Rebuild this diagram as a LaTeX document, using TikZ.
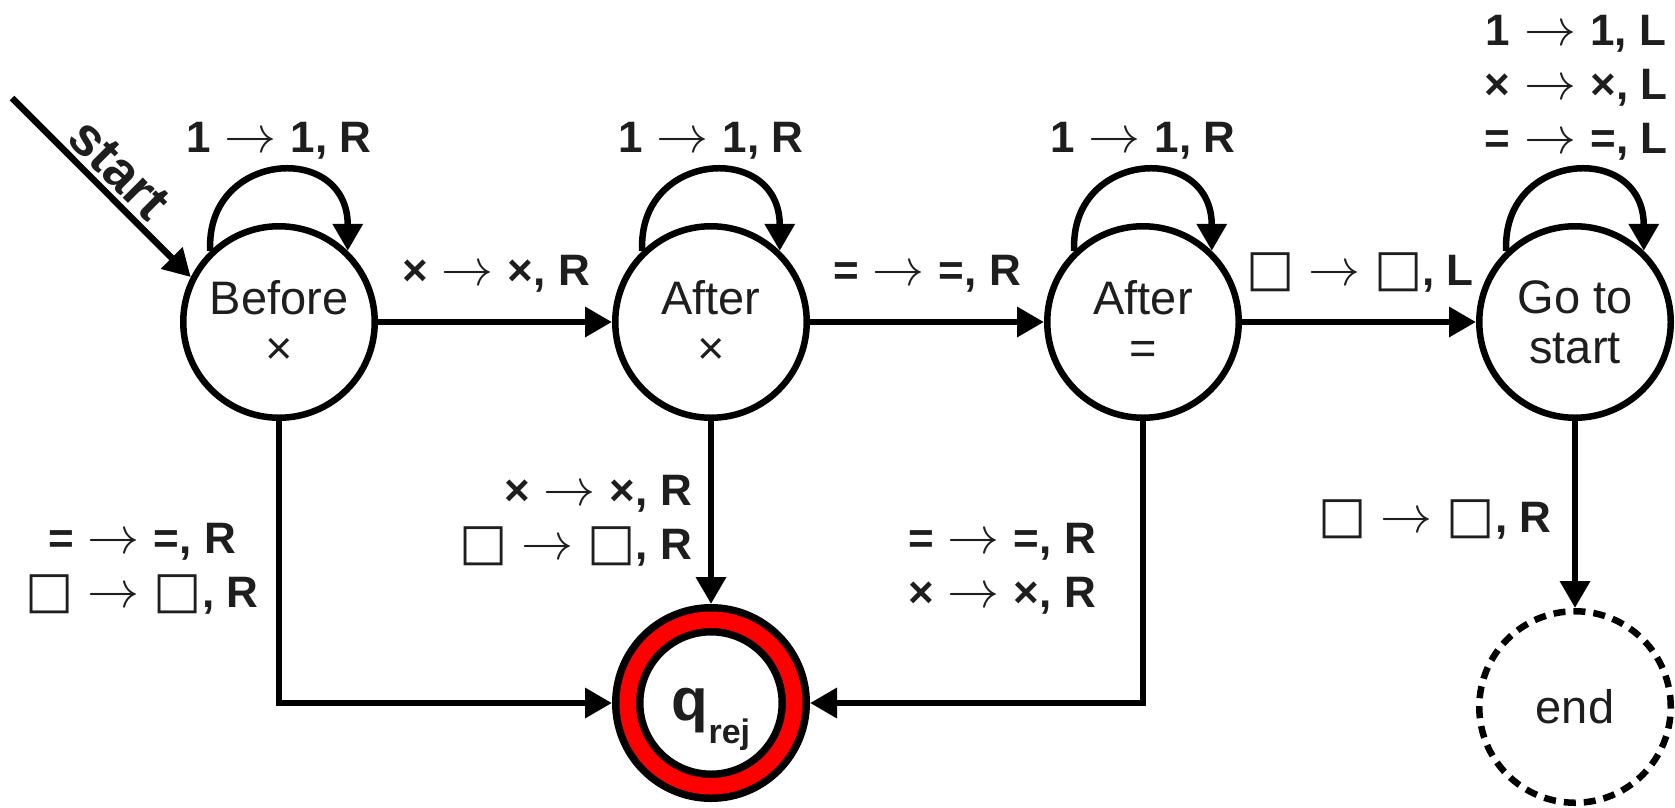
\RequirePackage{fix-cm}
\documentclass[tikz,border=0pt]{standalone}
\usepackage{fontspec}
\setmainfont{Liberation Sans}
\newfontfamily\djv{DejaVu Sans}
\usetikzlibrary{arrows.meta}
\definecolor{txt}{RGB}{30,30,30}
\definecolor{rejred}{RGB}{255,0,0}
\newcommand\arr{\hspace{14pt}{\fontsize{52}{54}\selectfont$\rightarrow$}\hspace{14pt}}
\newcommand\blk{{\djv\fontsize{51}{54}\selectfont □}}
\newcommand\lbl[2][c]{\begin{tabular}[t]{@{}#1@{}}#2\end{tabular}}
\begin{document}
\begin{tikzpicture}[x=1pt,y=-1pt,
  state/.style={circle,draw,line width=6.5pt,minimum size=191.5pt,inner sep=0pt,fill=white,text=txt,align=center,font=\fontsize{47}{50}\selectfont},
  lab/.style={text=txt,inner sep=0pt,anchor=base,font=\bfseries\fontsize{44}{54}\selectfont},
  edge/.style={line width=6.5pt,-{Triangle[length=27pt,width=29pt]}},
  rej/.style={circle,draw,line width=7.5pt,double=rejred,double distance=16.5pt,minimum size=166.5pt,inner sep=0pt,outer sep=15.75pt,fill=white,text=txt,text height=64pt,text depth=30pt}
]
\useasboundingbox (0,0) rectangle (1675,807);
% states
\node[state] (b) at (279,322) {Before\\×};
\node[state] (a1) at (711,322) {After\\×};
\node[state] (a2) at (1143,322) {After\\=};
\node[state] (g) at (1575,322) {Go to\\start};
\node[rej] (q) at (711,703) {\bfseries\fontsize{60}{62}\selectfont q\raisebox{-23pt}{\fontsize{34}{36}\selectfont rej}};
\node[state,dash pattern=on 12pt off 8pt] (e) at (1575,707) {end};
% start
\coordinate (s) at (12,98);
\draw[edge] (s) -- (b.153) node[midway,above=4pt,sloped,text=txt,inner sep=0pt,font=\bfseries\fontsize{54}{56}\selectfont] (st) {start};
% loops
\draw[edge] (b.134) .. controls +(-5,-100) and +(0,-110) .. (b.46);
\draw[edge] (a1.134) .. controls +(-5,-100) and +(0,-110) .. (a1.46);
\draw[edge] (a2.134) .. controls +(-5,-100) and +(0,-110) .. (a2.46);
\draw[edge] (g.134) .. controls +(-5,-100) and +(0,-110) .. (g.46);
% edges
\draw[edge] (b) -- (a1);
\draw[edge] (a1) -- (a2);
\draw[edge] (a2) -- (g);
\draw[edge] (b) |- (q);
\draw[edge] (a1) -- (q);
\draw[edge] (a2) |- (q);
\draw[edge] (g) -- (e);
% labels
\node[lab] (l1) at (279,152) {1\arr 1, R};
\node[lab] (l2) at (711,152) {1\arr 1, R};
\node[lab] (l3) at (1143,152) {1\arr 1, R};
\node[lab] (l4) at (1576,45) {\lbl{1\arr 1, L\\×\arr ×, L\\=\arr =, L}};
\node[lab] (l5) at (496,285) {×\arr ×, R};
\node[lab] (l6) at (927,285) {=\arr =, R};
\node[lab] (l7) at (1360,285) {\blk\arr\blk, L};
\node[lab] (l8) at (142,553) {\lbl{=\arr =, R\\\blk\arr\blk, R}};
\node[lab,anchor=base east] (l9) at (692,505) {\lbl[r]{×\arr ×, R\\\blk\arr\blk, R}};
\node[lab] (l10) at (1002,553) {\lbl{=\arr =, R\\×\arr ×, R}};
\node[lab] (l11) at (1435,532) {\blk\arr\blk, R};
\end{tikzpicture}
\end{document}
